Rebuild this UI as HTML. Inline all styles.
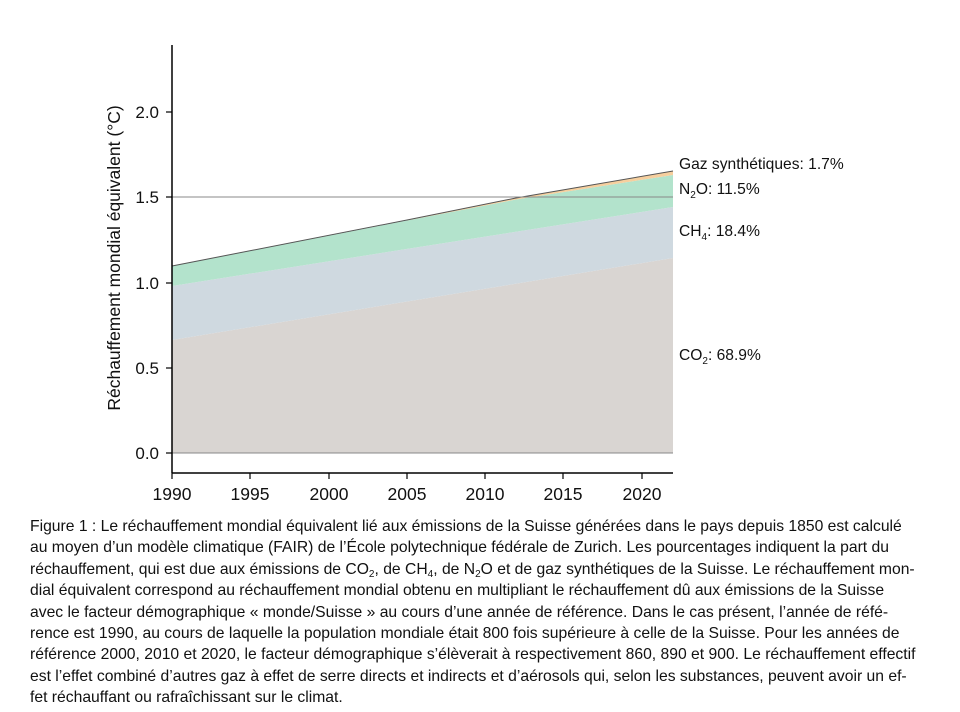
<!DOCTYPE html>
<html><head><meta charset="utf-8"><style>
body{margin:0;background:#fff;width:960px;height:712px;overflow:hidden;font-family:"Liberation Sans",Arial,sans-serif;}
.cap{position:absolute;left:30px;top:516px;font-size:15.7px;line-height:21.4px;color:#111;white-space:nowrap;}
.cap sub{font-size:10px;line-height:0;vertical-align:-3px;}
</style></head><body>
<svg width="960" height="712" style="position:absolute;left:0;top:0" font-family="Liberation Sans, Arial, sans-serif">
<polygon points="172,453 673,453 673,258 172,340" fill="#d9d5d2"/>
<polygon points="172,340 673,258 673,207 172,286" fill="#cfd9e0"/>
<polygon points="172,286 673,207 673,175 516,199.5 407,220.5 172,266" fill="#b3e3cc"/>
<polygon points="407,220 516,198 673,171 673,175 516,199.5 407,220.5" fill="#f6cf9e"/>
<polyline points="172,266 407,220 516,198 673,171" fill="none" stroke="#555" stroke-width="1"/>
<line x1="172" y1="197" x2="673" y2="197" stroke="#888" stroke-width="1"/>
<line x1="172" y1="453" x2="673" y2="453" stroke="#888" stroke-width="1"/>
<line x1="172" y1="45" x2="172" y2="473" stroke="#000" stroke-width="1.5"/>
<line x1="172" y1="473" x2="673" y2="473" stroke="#000" stroke-width="1.5"/>
<g stroke="#000" stroke-width="1.2">
<line x1="166" y1="112" x2="172" y2="112"/><line x1="166" y1="197" x2="172" y2="197"/>
<line x1="166" y1="283" x2="172" y2="283"/><line x1="166" y1="368" x2="172" y2="368"/>
<line x1="166" y1="453" x2="172" y2="453"/>
<line x1="172" y1="473" x2="172" y2="479"/><line x1="250" y1="473" x2="250" y2="479"/>
<line x1="329" y1="473" x2="329" y2="479"/><line x1="407" y1="473" x2="407" y2="479"/>
<line x1="485" y1="473" x2="485" y2="479"/><line x1="563" y1="473" x2="563" y2="479"/>
<line x1="642" y1="473" x2="642" y2="479"/>
</g>
<g font-size="17" fill="#111" text-anchor="end">
<text x="159" y="118">2.0</text><text x="159" y="203">1.5</text>
<text x="159" y="289">1.0</text><text x="159" y="374">0.5</text><text x="159" y="459">0.0</text>
</g>
<g font-size="17.5" fill="#111" text-anchor="middle">
<text x="172" y="500">1990</text><text x="250" y="500">1995</text><text x="329" y="500">2000</text>
<text x="407" y="500">2005</text><text x="485" y="500">2010</text><text x="563" y="500">2015</text><text x="642" y="500">2020</text>
</g>
<text transform="translate(120,258) rotate(-90)" font-size="17.5" fill="#111" text-anchor="middle">Réchauffement mondial équivalent (°C)</text>
<g font-size="15.6" fill="#111">
<text x="679" y="169">Gaz synthétiques: 1.7%</text>
<text x="679" y="194">N<tspan font-size="10" dy="4">2</tspan><tspan dy="-4">O: 11.5%</tspan></text>
<text x="679" y="236">CH<tspan font-size="10" dy="4">4</tspan><tspan dy="-4">: 18.4%</tspan></text>
<text x="679" y="360">CO<tspan font-size="10" dy="4">2</tspan><tspan dy="-4">: 68.9%</tspan></text>
</g>
</svg>
<div class="cap">Figure 1 : Le réchauffement mondial équivalent lié aux émissions de la Suisse générées dans le pays depuis 1850 est calculé<br>
au moyen d’un modèle climatique (FAIR) de l’École polytechnique fédérale de Zurich. Les pourcentages indiquent la part du<br>
réchauffement, qui est due aux émissions de CO<sub>2</sub>, de CH<sub>4</sub>, de N<sub>2</sub>O et de gaz synthétiques de la Suisse. Le réchauffement mon-<br>
dial équivalent correspond au réchauffement mondial obtenu en multipliant le réchauffement dû aux émissions de la Suisse<br>
avec le facteur démographique « monde/Suisse » au cours d’une année de référence. Dans le cas présent, l’année de réfé-<br>
rence est 1990, au cours de laquelle la population mondiale était 800 fois supérieure à celle de la Suisse. Pour les années de<br>
référence 2000, 2010 et 2020, le facteur démographique s’élèverait à respectivement 860, 890 et 900. Le réchauffement effectif<br>
est l’effet combiné d’autres gaz à effet de serre directs et indirects et d’aérosols qui, selon les substances, peuvent avoir un ef-<br>
fet réchauffant ou rafraîchissant sur le climat.</div>
</body></html>
